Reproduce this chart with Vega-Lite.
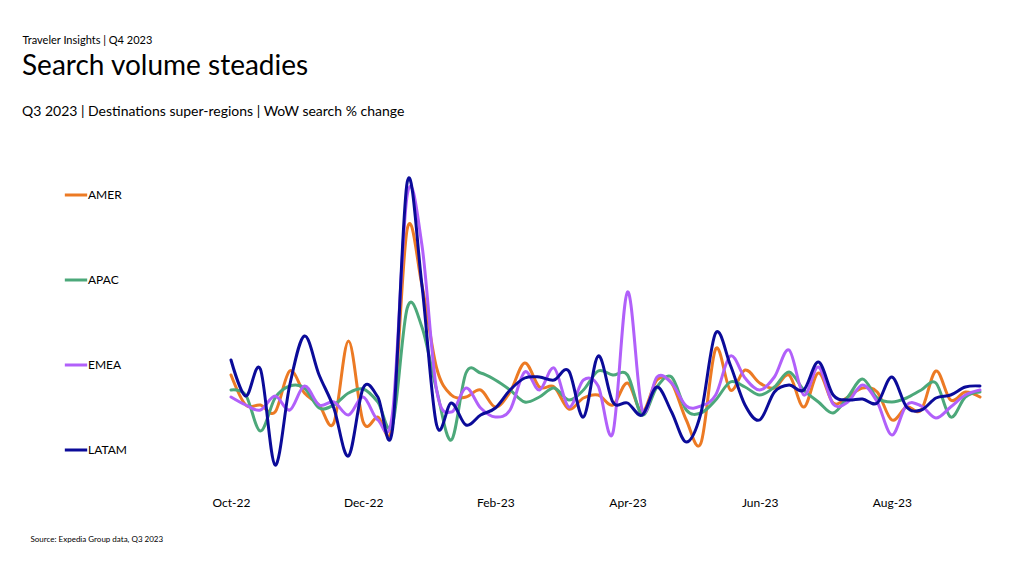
{
"$schema":"https://vega.github.io/schema/vega-lite/v6.json",
"width":749,"height":310,
"autosize":{"type":"none"},
"padding":{"left":231,"top":170,"right":44,"bottom":92},
"background":"white",
"title":{"text":"Search volume steadies","subtitle":"Q3 2023 | Destinations super-regions | WoW search % change","anchor":"start","frame":"group","dx":-209,"fontSize":28,"fontWeight":"normal","color":"#000000","font":"Lato","subtitleFont":"Lato","subtitleFontSize":14,"subtitleColor":"#000000","subtitlePadding":24,"offset":-85},
"data":{"values":[
{"week":"2022-10-02","region":"AMER","change":6.25},{"week":"2022-10-09","region":"AMER","change":-1.25},{"week":"2022-10-16","region":"AMER","change":-1.25},{"week":"2022-10-23","region":"AMER","change":-3},{"week":"2022-10-30","region":"AMER","change":7.25},{"week":"2022-11-06","region":"AMER","change":1.75},{"week":"2022-11-13","region":"AMER","change":-1.25},{"week":"2022-11-20","region":"AMER","change":-5.75},{"week":"2022-11-27","region":"AMER","change":14.75},{"week":"2022-12-04","region":"AMER","change":-5.5},{"week":"2022-12-11","region":"AMER","change":-4.25},{"week":"2022-12-18","region":"AMER","change":-6},{"week":"2022-12-25","region":"AMER","change":42.75},{"week":"2023-01-01","region":"AMER","change":28.75},{"week":"2023-01-08","region":"AMER","change":8},{"week":"2023-01-15","region":"AMER","change":1.25},{"week":"2023-01-22","region":"AMER","change":0.75},{"week":"2023-01-29","region":"AMER","change":2.5},{"week":"2023-02-05","region":"AMER","change":-1.75},{"week":"2023-02-12","region":"AMER","change":2},{"week":"2023-02-19","region":"AMER","change":9.25},{"week":"2023-02-26","region":"AMER","change":3.25},{"week":"2023-03-05","region":"AMER","change":3.25},{"week":"2023-03-12","region":"AMER","change":-2.25},{"week":"2023-03-19","region":"AMER","change":0.5},{"week":"2023-03-26","region":"AMER","change":1.25},{"week":"2023-04-02","region":"AMER","change":-1.25},{"week":"2023-04-09","region":"AMER","change":4.25},{"week":"2023-04-16","region":"AMER","change":-3},{"week":"2023-04-23","region":"AMER","change":5},{"week":"2023-04-30","region":"AMER","change":4.25},{"week":"2023-05-07","region":"AMER","change":-5},{"week":"2023-05-14","region":"AMER","change":-10.75},{"week":"2023-05-21","region":"AMER","change":12.75},{"week":"2023-05-28","region":"AMER","change":2.5},{"week":"2023-06-04","region":"AMER","change":7.5},{"week":"2023-06-11","region":"AMER","change":4.25},{"week":"2023-06-18","region":"AMER","change":3},{"week":"2023-06-25","region":"AMER","change":6.25},{"week":"2023-07-02","region":"AMER","change":-1.75},{"week":"2023-07-09","region":"AMER","change":6.75},{"week":"2023-07-16","region":"AMER","change":-0.75},{"week":"2023-07-23","region":"AMER","change":0.75},{"week":"2023-07-30","region":"AMER","change":3},{"week":"2023-08-06","region":"AMER","change":2},{"week":"2023-08-13","region":"AMER","change":-5},{"week":"2023-08-20","region":"AMER","change":-1.75},{"week":"2023-08-27","region":"AMER","change":-2.5},{"week":"2023-09-03","region":"AMER","change":7.25},{"week":"2023-09-10","region":"AMER","change":0},{"week":"2023-09-17","region":"AMER","change":2},{"week":"2023-09-24","region":"AMER","change":0.75},
{"week":"2022-10-02","region":"APAC","change":2.5},{"week":"2022-10-09","region":"APAC","change":1.25},{"week":"2022-10-16","region":"APAC","change":-7.75},{"week":"2022-10-23","region":"APAC","change":0.5},{"week":"2022-10-30","region":"APAC","change":3.5},{"week":"2022-11-06","region":"APAC","change":3},{"week":"2022-11-13","region":"APAC","change":-2},{"week":"2022-11-20","region":"APAC","change":-1.25},{"week":"2022-11-27","region":"APAC","change":1.75},{"week":"2022-12-04","region":"APAC","change":2.75},{"week":"2022-12-11","region":"APAC","change":-0.5},{"week":"2022-12-18","region":"APAC","change":-6.25},{"week":"2022-12-25","region":"APAC","change":23},{"week":"2023-01-01","region":"APAC","change":18.25},{"week":"2023-01-08","region":"APAC","change":2.5},{"week":"2023-01-15","region":"APAC","change":-10},{"week":"2023-01-22","region":"APAC","change":6.75},{"week":"2023-01-29","region":"APAC","change":6.75},{"week":"2023-02-05","region":"APAC","change":5},{"week":"2023-02-12","region":"APAC","change":2.5},{"week":"2023-02-19","region":"APAC","change":-0.5},{"week":"2023-02-26","region":"APAC","change":0.75},{"week":"2023-03-05","region":"APAC","change":3},{"week":"2023-03-12","region":"APAC","change":0},{"week":"2023-03-19","region":"APAC","change":2.5},{"week":"2023-03-26","region":"APAC","change":7.25},{"week":"2023-04-02","region":"APAC","change":6.25},{"week":"2023-04-09","region":"APAC","change":6.25},{"week":"2023-04-16","region":"APAC","change":-3.75},{"week":"2023-04-23","region":"APAC","change":3.25},{"week":"2023-04-30","region":"APAC","change":5.75},{"week":"2023-05-07","region":"APAC","change":-2.5},{"week":"2023-05-14","region":"APAC","change":-3.25},{"week":"2023-05-21","region":"APAC","change":0},{"week":"2023-05-28","region":"APAC","change":4.5},{"week":"2023-06-04","region":"APAC","change":3.25},{"week":"2023-06-11","region":"APAC","change":1.25},{"week":"2023-06-18","region":"APAC","change":3.25},{"week":"2023-06-25","region":"APAC","change":7},{"week":"2023-07-02","region":"APAC","change":2.5},{"week":"2023-07-09","region":"APAC","change":-0.5},{"week":"2023-07-16","region":"APAC","change":-3.25},{"week":"2023-07-23","region":"APAC","change":0.75},{"week":"2023-07-30","region":"APAC","change":5.25},{"week":"2023-08-06","region":"APAC","change":0.5},{"week":"2023-08-13","region":"APAC","change":-0.5},{"week":"2023-08-20","region":"APAC","change":0.5},{"week":"2023-08-27","region":"APAC","change":2.5},{"week":"2023-09-03","region":"APAC","change":4.25},{"week":"2023-09-10","region":"APAC","change":-4.25},{"week":"2023-09-17","region":"APAC","change":0.75},{"week":"2023-09-24","region":"APAC","change":2},
{"week":"2022-10-02","region":"EMEA","change":0.75},{"week":"2022-10-09","region":"EMEA","change":-1.25},{"week":"2022-10-16","region":"EMEA","change":-2.5},{"week":"2022-10-23","region":"EMEA","change":1},{"week":"2022-10-30","region":"EMEA","change":-2.5},{"week":"2022-11-06","region":"EMEA","change":3.5},{"week":"2022-11-13","region":"EMEA","change":-1.25},{"week":"2022-11-20","region":"EMEA","change":-0.5},{"week":"2022-11-27","region":"EMEA","change":-3.75},{"week":"2022-12-04","region":"EMEA","change":0.75},{"week":"2022-12-11","region":"EMEA","change":-5},{"week":"2022-12-18","region":"EMEA","change":-3.25},{"week":"2022-12-25","region":"EMEA","change":51.25},{"week":"2023-01-01","region":"EMEA","change":38.75},{"week":"2023-01-08","region":"EMEA","change":2.5},{"week":"2023-01-15","region":"EMEA","change":-3},{"week":"2023-01-22","region":"EMEA","change":3},{"week":"2023-01-29","region":"EMEA","change":-2},{"week":"2023-02-05","region":"EMEA","change":-4.25},{"week":"2023-02-12","region":"EMEA","change":-2.5},{"week":"2023-02-19","region":"EMEA","change":7},{"week":"2023-02-26","region":"EMEA","change":2.5},{"week":"2023-03-05","region":"EMEA","change":8},{"week":"2023-03-12","region":"EMEA","change":-1.75},{"week":"2023-03-19","region":"EMEA","change":5},{"week":"2023-03-26","region":"EMEA","change":3.5},{"week":"2023-04-02","region":"EMEA","change":-8.25},{"week":"2023-04-09","region":"EMEA","change":27},{"week":"2023-04-16","region":"EMEA","change":-2.5},{"week":"2023-04-23","region":"EMEA","change":5.75},{"week":"2023-04-30","region":"EMEA","change":4.25},{"week":"2023-05-07","region":"EMEA","change":-1.5},{"week":"2023-05-14","region":"EMEA","change":-1.5},{"week":"2023-05-21","region":"EMEA","change":1.25},{"week":"2023-05-28","region":"EMEA","change":11},{"week":"2023-06-04","region":"EMEA","change":5.5},{"week":"2023-06-11","region":"EMEA","change":2.5},{"week":"2023-06-18","region":"EMEA","change":5.75},{"week":"2023-06-25","region":"EMEA","change":12.5},{"week":"2023-07-02","region":"EMEA","change":1.25},{"week":"2023-07-09","region":"EMEA","change":8.25},{"week":"2023-07-16","region":"EMEA","change":-1},{"week":"2023-07-23","region":"EMEA","change":-0.5},{"week":"2023-07-30","region":"EMEA","change":3.75},{"week":"2023-08-06","region":"EMEA","change":-0.5},{"week":"2023-08-13","region":"EMEA","change":-8.75},{"week":"2023-08-20","region":"EMEA","change":-1.25},{"week":"2023-08-27","region":"EMEA","change":-1.5},{"week":"2023-09-03","region":"EMEA","change":-4.5},{"week":"2023-09-10","region":"EMEA","change":-1.75},{"week":"2023-09-17","region":"EMEA","change":1.25},{"week":"2023-09-24","region":"EMEA","change":2.5},
{"week":"2022-10-02","region":"LATAM","change":10},{"week":"2022-10-09","region":"LATAM","change":1},{"week":"2022-10-16","region":"LATAM","change":7.75},{"week":"2022-10-23","region":"LATAM","change":-16.25},{"week":"2022-10-30","region":"LATAM","change":3.75},{"week":"2022-11-06","region":"LATAM","change":16},{"week":"2022-11-13","region":"LATAM","change":6.25},{"week":"2022-11-20","region":"LATAM","change":-2},{"week":"2022-11-27","region":"LATAM","change":-14},{"week":"2022-12-04","region":"LATAM","change":3},{"week":"2022-12-11","region":"LATAM","change":0.75},{"week":"2022-12-18","region":"LATAM","change":-7.25},{"week":"2022-12-25","region":"LATAM","change":54.5},{"week":"2023-01-01","region":"LATAM","change":28.75},{"week":"2023-01-08","region":"LATAM","change":-6.25},{"week":"2023-01-15","region":"LATAM","change":-0.75},{"week":"2023-01-22","region":"LATAM","change":-6.25},{"week":"2023-01-29","region":"LATAM","change":-3.75},{"week":"2023-02-05","region":"LATAM","change":-2},{"week":"2023-02-12","region":"LATAM","change":2.5},{"week":"2023-02-19","region":"LATAM","change":5.5},{"week":"2023-02-26","region":"LATAM","change":5.75},{"week":"2023-03-05","region":"LATAM","change":5},{"week":"2023-03-12","region":"LATAM","change":7.25},{"week":"2023-03-19","region":"LATAM","change":-4.25},{"week":"2023-03-26","region":"LATAM","change":11},{"week":"2023-04-02","region":"LATAM","change":-0.5},{"week":"2023-04-09","region":"LATAM","change":-0.75},{"week":"2023-04-16","region":"LATAM","change":-3.75},{"week":"2023-04-23","region":"LATAM","change":3.25},{"week":"2023-04-30","region":"LATAM","change":-3},{"week":"2023-05-07","region":"LATAM","change":-10.5},{"week":"2023-05-14","region":"LATAM","change":-3.25},{"week":"2023-05-21","region":"LATAM","change":16.75},{"week":"2023-05-28","region":"LATAM","change":8.75},{"week":"2023-06-04","region":"LATAM","change":-1.25},{"week":"2023-06-11","region":"LATAM","change":-5},{"week":"2023-06-18","region":"LATAM","change":2},{"week":"2023-06-25","region":"LATAM","change":3.75},{"week":"2023-07-02","region":"LATAM","change":2.5},{"week":"2023-07-09","region":"LATAM","change":9.5},{"week":"2023-07-16","region":"LATAM","change":1.25},{"week":"2023-07-23","region":"LATAM","change":0},{"week":"2023-07-30","region":"LATAM","change":0.25},{"week":"2023-08-06","region":"LATAM","change":-0.75},{"week":"2023-08-13","region":"LATAM","change":5.75},{"week":"2023-08-20","region":"LATAM","change":-1.75},{"week":"2023-08-27","region":"LATAM","change":-2.5},{"week":"2023-09-03","region":"LATAM","change":0.5},{"week":"2023-09-10","region":"LATAM","change":1.25},{"week":"2023-09-17","region":"LATAM","change":3.25},{"week":"2023-09-24","region":"LATAM","change":3.5}
]},
"mark":{"type":"line","interpolate":"cardinal","tension":0,"strokeWidth":3,"strokeCap":"round","strokeJoin":"round"},
"encoding":{
"x":{"field":"week","type":"temporal","scale":{"type":"utc","nice":false,"domain":[{"year":2022,"month":10,"date":2,"utc":true},{"year":2023,"month":9,"date":24,"utc":true}]},
"axis":{"values":[{"year":2022,"month":10,"date":2,"utc":true},{"year":2022,"month":12,"date":4,"utc":true},{"year":2023,"month":2,"date":5,"utc":true},{"year":2023,"month":4,"date":9,"utc":true},{"year":2023,"month":6,"date":11,"utc":true},{"year":2023,"month":8,"date":13,"utc":true}],"labelExpr":"utcFormat(datum.value, '%b-%y')","domain":false,"ticks":false,"grid":false,"labelFlush":false,"labelOverlap":false,"labelPadding":17,"labelFontSize":12,"labelFont":"Lato","labelColor":"#000000","title":"Source: Expedia Group data, Q3 2023","titleFont":"Lato","titleFontSize":8,"titleFontWeight":"normal","titleColor":"#000000","titleAlign":"left","titleBaseline":"alphabetic","titleAnchor":"start","titleX":-201,"titleY":61}},
"y":{"field":"change","type":"quantitative","scale":{"domain":[-20,57.5],"nice":false,"zero":false},
"axis":{"domain":false,"ticks":false,"labels":false,"grid":false,"title":"Traveler Insights | Q4 2023","titleAngle":0,"titleAlign":"left","titleBaseline":"alphabetic","titleAnchor":"start","titleX":-209,"titleY":-127,"titleFont":"Lato","titleFontSize":11,"titleFontWeight":"normal","titleColor":"#000000"}},
"color":{"field":"region","type":"nominal","scale":{"domain":["AMER","APAC","EMEA","LATAM"],"range":["#EC7A24","#4CA87A","#B160FA","#0B0B99"]},
"legend":{"orient":"none","legendX":-168,"legendY":12,"direction":"vertical","title":null,"symbolType":"stroke","symbolSize":500,"symbolStrokeWidth":3,"rowPadding":66,"labelFont":"Lato","labelFontSize":12,"labelColor":"#000000","labelOffset":-1}}
},
"config":{"view":{"stroke":null},"font":"Lato"}
}
